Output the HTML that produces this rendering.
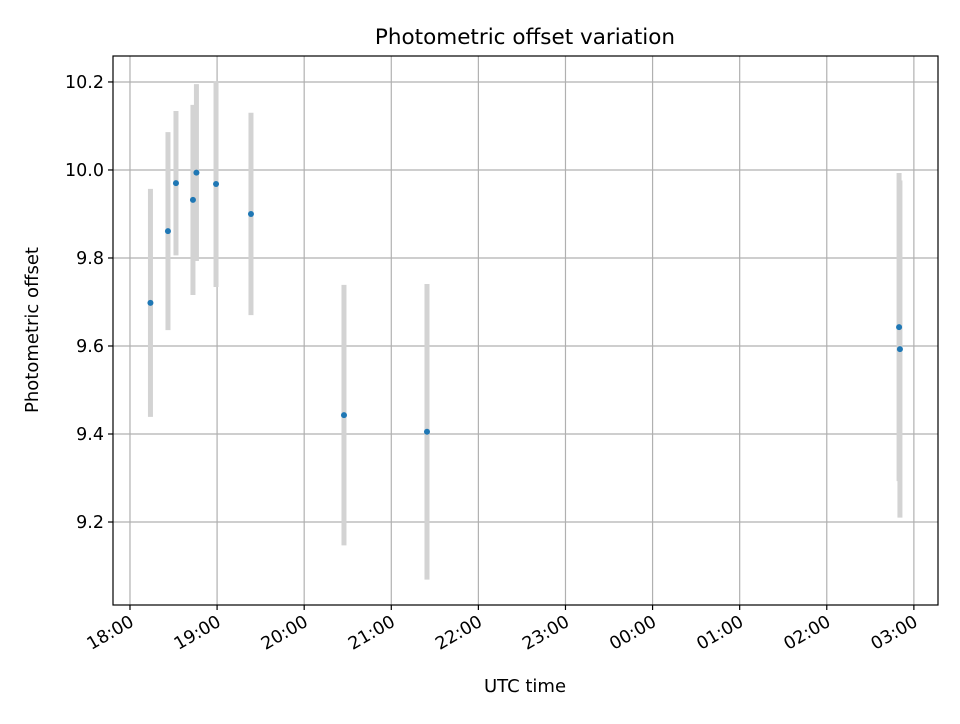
<!DOCTYPE html>
<html><head><meta charset="utf-8"><style>
body{margin:0;background:#fff;font-family:"DejaVu Sans","Liberation Sans",sans-serif}
</style></head><body>
<svg id="chart" width="960" height="720" xmlns="http://www.w3.org/2000/svg" font-family="DejaVu Sans, Liberation Sans, sans-serif">
<rect width="960" height="720" fill="#fff"/>
<g id="grid"></g>
<g id="bars"></g>
<g id="pts"></g>
<rect x="113" y="56" width="825" height="549" fill="none" stroke="#000" stroke-width="1.2"/>
<g id="ticks"></g>
<text x="525" y="44" font-size="21.5" text-anchor="middle">Photometric offset variation</text>
<text x="525" y="692" font-size="18" text-anchor="middle">UTC time</text>
<text transform="translate(38,330) rotate(-90)" font-size="18" text-anchor="middle">Photometric offset</text>
</svg>
<script>
// hours after 18:00 UTC
const times=[0.235,0.436,0.528,0.723,0.763,0.988,1.389,2.457,3.41,8.83,8.84];
const offsets=[9.698,9.861,9.970,9.932,9.994,9.968,9.900,9.443,9.405,9.643,9.593];
const errors=[0.259,0.225,0.164,0.216,0.201,0.234,0.230,0.296,0.336,0.350,0.383];
const xTickHours=[0,1,2,3,4,5,6,7,8,9];
const xTickLabels=["18:00","19:00","20:00","21:00","22:00","23:00","00:00","01:00","02:00","03:00"];
const yTicks=[9.2,9.4,9.6,9.8,10.0,10.2];
const yTickLabels=["9.2","9.4","9.6","9.8","10.0","10.2"];

const NS="http://www.w3.org/2000/svg";
const L=113,R=938,T=56,B=605;
const xMin=-0.195,xMax=9.277,yMin=9.0114,yMax=10.259;
const X=h=>L+(h-xMin)/(xMax-xMin)*(R-L);
const Y=v=>B-(v-yMin)/(yMax-yMin)*(B-T);
function mk(tag,attrs,parent){const e=document.createElementNS(NS,tag);for(const k in attrs)e.setAttribute(k,attrs[k]);parent.appendChild(e);return e;}
const grid=document.getElementById('grid'),ticks=document.getElementById('ticks'),bars=document.getElementById('bars'),pts=document.getElementById('pts');
xTickHours.forEach((h,i)=>{
  const x=X(h);
  const g=mk('line',{x1:x,x2:x,y1:T,y2:B,stroke:'#b0b0b0','stroke-width':1.2},grid);
  
  
  const t=mk('line',{x1:x,x2:x,y1:B,y2:B+5,stroke:'#000','stroke-width':1.2},ticks);
  
  
  const lb=mk('text',{transform:`translate(${x+5},${B+20}) rotate(-30)`,'font-size':17.5,'text-anchor':'end'},ticks);
  lb.textContent=xTickLabels[i];
  
  
});
yTicks.forEach((v,i)=>{
  const y=Y(v);
  const g=mk('line',{x1:L,x2:R,y1:y,y2:y,stroke:'#b0b0b0','stroke-width':1.2},grid);
  
  
  const t=mk('line',{x1:L-5,x2:L,y1:y,y2:y,stroke:'#000','stroke-width':1.2},ticks);
  
  
  const lb=mk('text',{x:L-9,y:y+6,'font-size':17.5,'text-anchor':'end'},ticks);
  lb.textContent=yTickLabels[i];
  
  
});
times.forEach((h,i)=>{
  const x=X(h);
  const b=mk('line',{x1:x,x2:x,y1:Y(offsets[i]+errors[i]),y2:Y(offsets[i]-errors[i]),stroke:'#d3d3d3','stroke-width':5},bars);
  
  
  const c=mk('circle',{cx:x,cy:Y(offsets[i]),r:3,fill:'#1f77b4'},pts);
  
  
});
</script>
</body></html>
